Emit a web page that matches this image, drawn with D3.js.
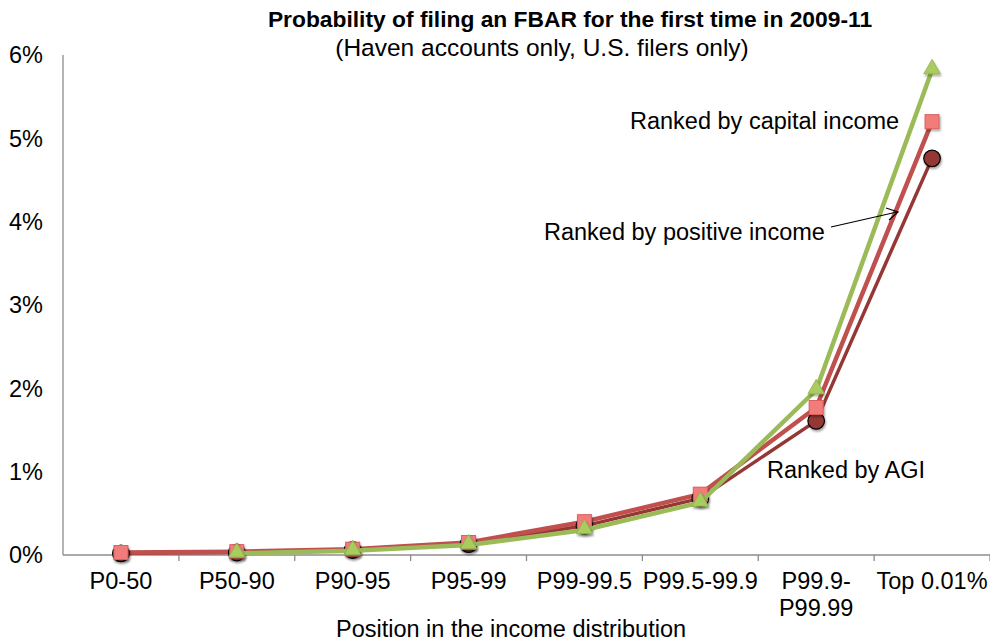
<!DOCTYPE html>
<html>
<head>
<meta charset="utf-8">
<script src="https://cdn.jsdelivr.net/npm/d3@7"></script>
<style>
  body { margin: 0; background: #fff; }
  svg text { font-family: "Liberation Sans", Arial, sans-serif; fill: #000; }
</style>
</head>
<body>
<div id="chart"></div>
<script>
// categories on the x axis
const categories = ["P0-50", "P50-90", "P90-95", "P95-99", "P99-99.5", "P99.5-99.9", "P99.9-P99.99", "Top 0.01%"];
const categoryLines = [["P0-50"], ["P50-90"], ["P90-95"], ["P95-99"], ["P99-99.5"], ["P99.5-99.9"], ["P99.9-", "P99.99"], ["Top 0.01%"]];

// series values, in percent (null = no point)
const agiValues = [0.02, 0.03, 0.06, 0.13, 0.35, 0.68, 1.61, 4.76];
const positiveValues = [0.03, 0.04, 0.07, 0.15, 0.40, 0.73, 1.77, 5.20];
const capitalValues = [null, 0.02, 0.05, 0.12, 0.30, 0.63, 1.98, 5.82];

const yTicks = [0, 1, 2, 3, 4, 5, 6];

const W = 990, H = 644;
const margin = { top: 55, right: 0, bottom: 89, left: 63 };
const width = W - margin.left - margin.right;
const height = H - margin.top - margin.bottom;
const fs = 23.5;

const svg = d3.select("#chart").append("svg")
    .attr("width", W)
    .attr("height", H);

const defs = svg.append("defs");
const shadow = defs.append("filter").attr("id", "shadow")
    .attr("x", "-50%").attr("y", "-50%").attr("width", "200%").attr("height", "200%");
shadow.append("feDropShadow")
    .attr("dx", 1).attr("dy", 2).attr("stdDeviation", 1.2)
    .attr("flood-color", "#000").attr("flood-opacity", 0.35);

const g = svg.append("g")
    .attr("transform", `translate(${margin.left},${margin.top})`);

const x = d3.scaleBand()
    .domain(categories)
    .range([0, width]);

const y = d3.scaleLinear()
    .domain([0, 6])
    .range([height, 0]);

// Y axis: line only, labels on the left
g.append("line")
    .attr("x1", 0).attr("x2", 0)
    .attr("y1", 0).attr("y2", height)
    .attr("stroke", "#8c8c8c").attr("stroke-width", 1.3);

g.selectAll(".ytick")
    .data(yTicks)
    .enter().append("text")
    .attr("class", "ytick")
    .attr("x", -20)
    .attr("y", d => y(d))
    .attr("dy", "0.36em")
    .attr("text-anchor", "end")
    .attr("font-size", fs)
    .text(d => d + "%");

// X axis with ticks between categories
g.append("line")
    .attr("x1", 0).attr("x2", width)
    .attr("y1", height).attr("y2", height)
    .attr("stroke", "#8c8c8c").attr("stroke-width", 1.3);

g.selectAll(".xtick")
    .data(categories)
    .enter().append("line")
    .attr("class", "xtick")
    .attr("x1", d => x(d) + x.bandwidth())
    .attr("x2", d => x(d) + x.bandwidth())
    .attr("y1", height).attr("y2", height + 6)
    .attr("stroke", "#8c8c8c").attr("stroke-width", 1.3);

const xl = g.selectAll(".xlabel")
    .data(categories)
    .enter().append("text")
    .attr("class", "xlabel")
    .attr("x", d => x(d) + x.bandwidth() / 2)
    .attr("y", height + 34)
    .attr("text-anchor", "middle")
    .attr("font-size", fs);

xl.each(function(d, i) {
    const t = d3.select(this);
    categoryLines[i].forEach((line, j) => {
        t.append("tspan")
            .attr("x", x(d) + x.bandwidth() / 2)
            .attr("dy", j === 0 ? 0 : 27)
            .text(line);
    });
});

// Titles
svg.append("text")
    .attr("x", 570).attr("y", 27)
    .attr("text-anchor", "middle")
    .attr("font-size", 22.8).attr("font-weight", "bold")
    .text("Probability of filing an FBAR for the first time in 2009-11");

svg.append("text")
    .attr("x", 542).attr("y", 56)
    .attr("text-anchor", "middle")
    .attr("font-size", 24.5)
    .text("(Haven accounts only, U.S. filers only)");

svg.append("text")
    .attr("x", 511).attr("y", 637)
    .attr("text-anchor", "middle")
    .attr("font-size", fs)
    .text("Position in the income distribution");

// Lines and markers
const cx = i => x(categories[i]) + x.bandwidth() / 2;

const line = d3.line()
    .defined(d => d != null)
    .x((d, i) => cx(i))
    .y(d => y(d));

// AGI
g.append("path")
    .datum(agiValues)
    .attr("fill", "none")
    .attr("stroke", "#953735")
    .attr("stroke-width", 3.5)
    .attr("stroke-linejoin", "round")
    .attr("d", line);

// Positive income
g.append("path")
    .datum(positiveValues)
    .attr("fill", "none")
    .attr("stroke", "#c0504d")
    .attr("stroke-width", 4.5)
    .attr("stroke-linejoin", "round")
    .attr("d", line);

g.selectAll(".agi")
    .data(agiValues.map((v, i) => ({ v, i })).filter(d => d.v != null))
    .enter().append("circle")
    .attr("class", "agi")
    .attr("cx", d => cx(d.i))
    .attr("cy", d => y(d.v))
    .attr("r", 8.3)
    .attr("fill", "#953735")
    .attr("stroke", "#000")
    .attr("stroke-width", 1.2)
    .attr("filter", "url(#shadow)");

g.selectAll(".pos")
    .data(positiveValues.map((v, i) => ({ v, i })).filter(d => d.v != null))
    .enter().append("rect")
    .attr("class", "pos")
    .attr("x", d => cx(d.i) - 7)
    .attr("y", d => y(d.v) - 7)
    .attr("width", 14)
    .attr("height", 14)
    .attr("fill", "#f27c7a")
    .attr("stroke", "#d9605d")
    .attr("stroke-width", 1)
    .attr("filter", "url(#shadow)");

// Capital income
g.append("path")
    .datum(capitalValues)
    .attr("fill", "none")
    .attr("stroke", "#9bbb59")
    .attr("stroke-width", 4.5)
    .attr("stroke-linejoin", "round")
    .attr("d", line);

const tri = d3.symbol().type(d3.symbolTriangle).size(120);
g.selectAll(".cap")
    .data(capitalValues.map((v, i) => ({ v, i })).filter(d => d.v != null))
    .enter().append("path")
    .attr("class", "cap")
    .attr("transform", d => `translate(${cx(d.i)},${y(d.v) - 1})`)
    .attr("d", tri)
    .attr("fill", "#a9cc5f")
    .attr("stroke", "#8fb04c")
    .attr("stroke-width", 0.8)
    .attr("filter", "url(#shadow)");

// Annotations
svg.append("text")
    .attr("x", 630).attr("y", 129)
    .attr("font-size", fs)
    .text("Ranked by capital income");

svg.append("text")
    .attr("x", 544).attr("y", 240)
    .attr("font-size", fs)
    .text("Ranked by positive income");

svg.append("text")
    .attr("x", 767).attr("y", 478)
    .attr("font-size", fs)
    .text("Ranked by AGI");

// Arrow
svg.append("line")
    .attr("x1", 831).attr("y1", 227)
    .attr("x2", 897).attr("y2", 212)
    .attr("stroke", "#000").attr("stroke-width", 1.2);
svg.append("path")
    .attr("d", "M886,208 L898,212 L889,220")
    .attr("fill", "none")
    .attr("stroke", "#000").attr("stroke-width", 1.2);
</script>
</body>
</html>
